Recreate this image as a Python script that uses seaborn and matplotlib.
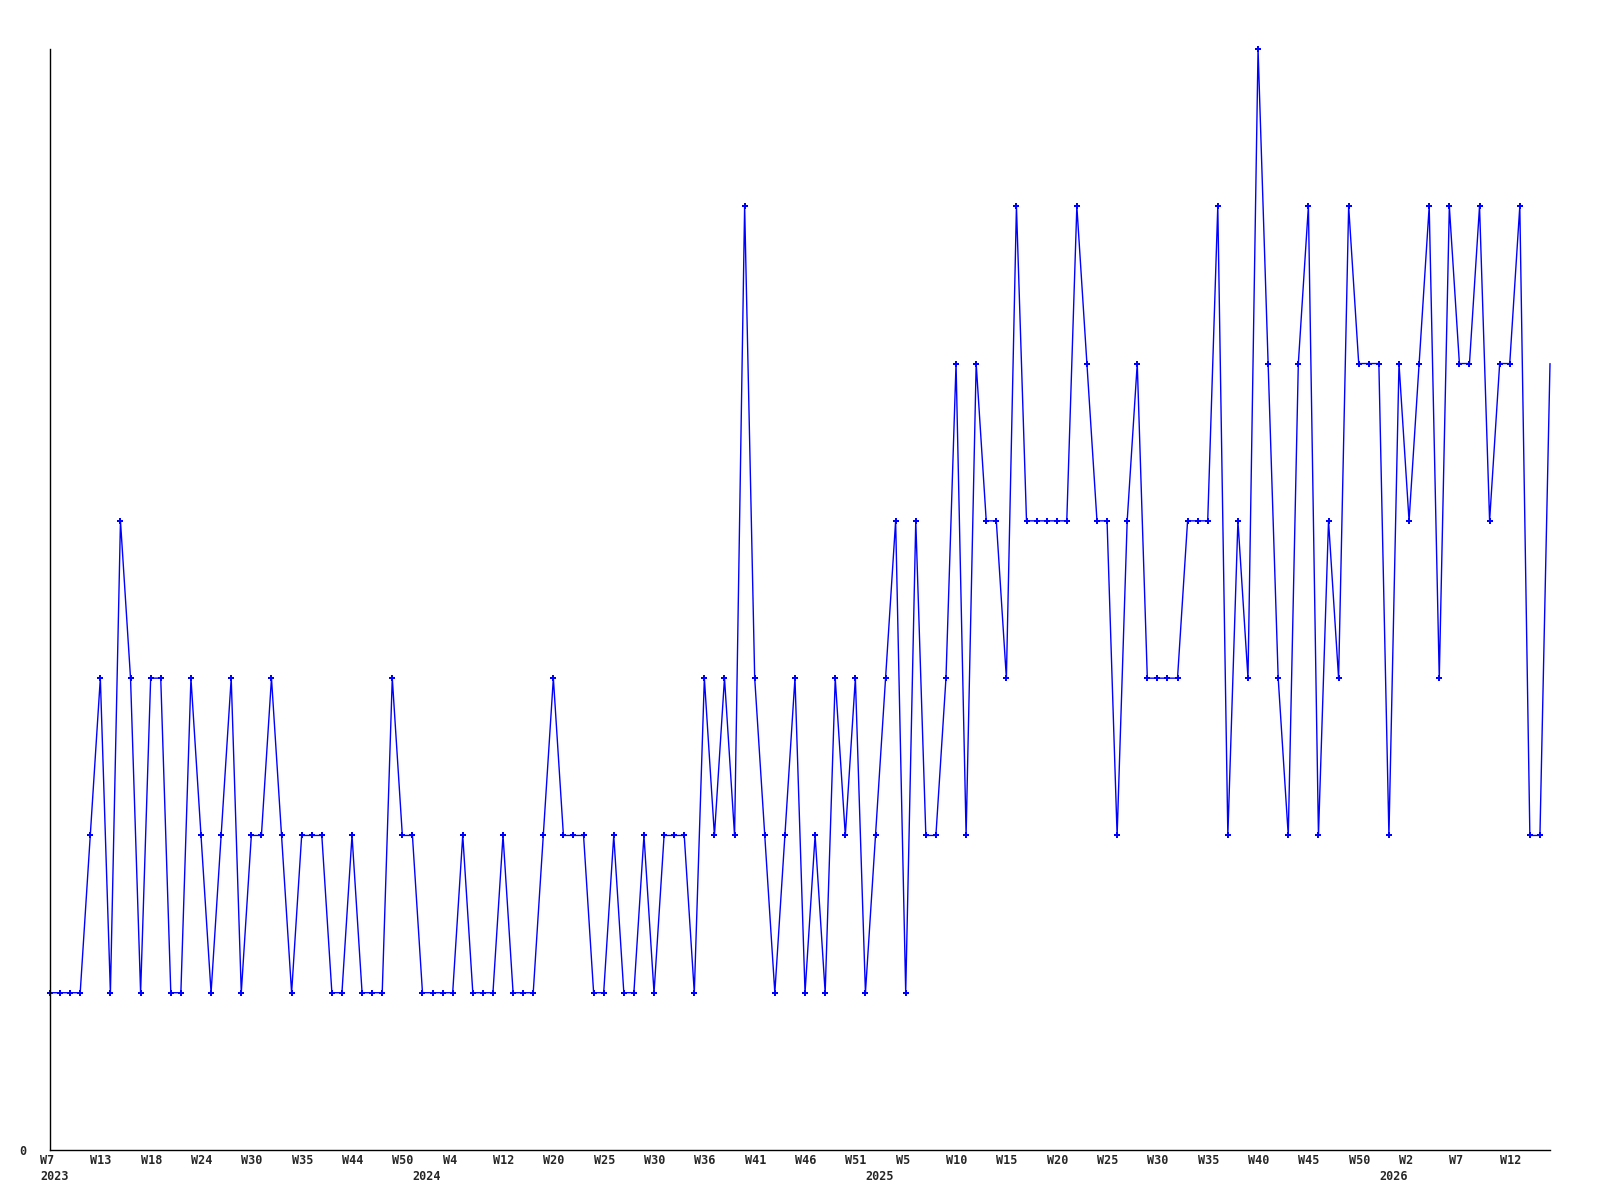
import matplotlib
matplotlib.use("Agg")
import matplotlib.pyplot as plt
import matplotlib.transforms as mtransforms
import seaborn as sns
import pandas as pd

# ---- data ----
values = [
    1, 1, 1, 1, 2, 3, 1, 4, 3, 1,
    3, 3, 1, 1, 3, 2, 1, 2, 3, 1,
    2, 2, 3, 2, 1, 2, 2, 2, 1, 1,
    2, 1, 1, 1, 3, 2, 2, 1, 1, 1,
    1, 2, 1, 1, 1, 2, 1, 1, 1, 2,
    3, 2, 2, 2, 1, 1, 2, 1, 1, 2,
    1, 2, 2, 2, 1, 3, 2, 3, 2, 6,
    3, 2, 1, 2, 3, 1, 2, 1, 3, 2,
    3, 1, 2, 3, 4, 1, 4, 2, 2, 3,
    5, 2, 5, 4, 4, 3, 6, 4, 4, 4,
    4, 4, 6, 5, 4, 4, 2, 4, 5, 3,
    3, 3, 3, 4, 4, 4, 6, 2, 4, 3,
    7, 5, 3, 2, 5, 6, 2, 4, 3, 6,
    5, 5, 5, 2, 5, 4, 5, 6, 3, 6,
    5, 5, 6, 4, 5, 5, 6, 2, 2, 5,
]
week_labels = ['W7', 'W13', 'W18', 'W24', 'W30', 'W35', 'W44', 'W50', 'W4', 'W12',
               'W20', 'W25', 'W30', 'W36', 'W41', 'W46', 'W51', 'W5', 'W10', 'W15',
               'W20', 'W25', 'W30', 'W35', 'W40', 'W45', 'W50', 'W2', 'W7', 'W12']
week_label_pos = list(range(0, 150, 5))
year_labels = ['2023', '2024', '2025', '2026']
year_label_pos = [0, 37, 82, 133]

df = pd.DataFrame({"idx": list(range(len(values))), "value": values})

sns.set_style("white")
plt.rcParams['font.family'] = ['DejaVu Sans Mono', 'DejaVu Sans']

fig = plt.figure(figsize=(16, 12), dpi=100)
ax = fig.add_axes([50 / 1600, 1 - 1150 / 1200, 1500 / 1600, (1150 - 49) / 1200])

sns.lineplot(data=df, x="idx", y="value", ax=ax, color="#0000ff", linewidth=1.0,
             marker="P", markersize=4.5, markeredgewidth=0,
             markevery=list(range(len(values) - 1)), clip_on=False)

ax.set_xlim(0, len(values) - 1)
ax.set_ylim(0, 7)
ax.set_xlabel("")
ax.set_ylabel("")

for s in ["top", "right"]:
    ax.spines[s].set_visible(False)
for s in ["left", "bottom"]:
    ax.spines[s].set_color("black")
    ax.spines[s].set_linewidth(1.0)

ax.set_yticks([0])
ax.set_yticklabels(["0"], fontsize=8.5, fontweight="bold")
ax.tick_params(axis="y", length=0, pad=17)

ax.set_xticks(week_label_pos)
ax.set_xticklabels(week_labels, fontsize=8.5, fontweight="bold")
ax.tick_params(axis="x", length=0, pad=3)
offset = mtransforms.ScaledTranslation(-10 / 100, 0, fig.dpi_scale_trans)
for lab in ax.get_xticklabels():
    lab.set_horizontalalignment("left")
    lab.set_transform(lab.get_transform() + offset)

blend = mtransforms.blended_transform_factory(ax.transData, ax.transAxes)
yoff = mtransforms.ScaledTranslation(-10 / 100, -27 / 100, fig.dpi_scale_trans)
for lbl, pos in zip(year_labels, year_label_pos):
    ax.text(pos, 0, lbl, transform=blend + yoff, ha="left", va="center",
            fontsize=8.5, fontweight="bold", clip_on=False)

fig.savefig("out.png", dpi=100)
